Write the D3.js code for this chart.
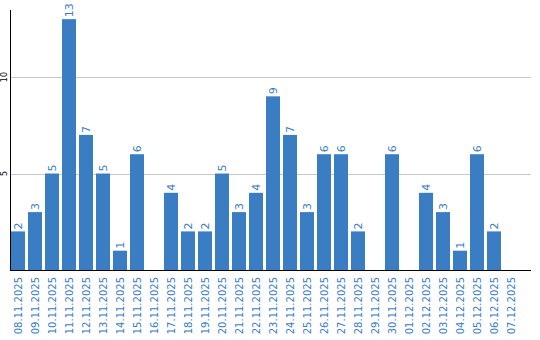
<!DOCTYPE html>
<html>
<head>
<meta charset="utf-8">
<script src="https://cdn.jsdelivr.net/npm/d3@7"></script>
<style>
  body { margin: 0; background: #fff; }
  text { font-family: "DejaVu Sans", Verdana, sans-serif; }
</style>
</head>
<body>
<div id="chart"></div>
<script>
"use strict";

var dates = ["08.11.2025","09.11.2025","10.11.2025","11.11.2025","12.11.2025","13.11.2025",
  "14.11.2025","15.11.2025","16.11.2025","17.11.2025","18.11.2025","19.11.2025","20.11.2025",
  "21.11.2025","22.11.2025","23.11.2025","24.11.2025","25.11.2025","26.11.2025","27.11.2025",
  "28.11.2025","29.11.2025","30.11.2025","01.12.2025","02.12.2025","03.12.2025","04.12.2025",
  "05.12.2025","06.12.2025","07.12.2025"];
var counts = [2,3,5,13,7,5,1,6,0,4,2,2,5,3,4,9,7,3,6,6,2,0,6,0,4,3,1,6,2,0];
var yTicks = [5, 10];

var width = 540, height = 340;
var blue = "#3a7dc2";

var svg = d3.select("#chart").append("svg")
  .attr("width", width)
  .attr("height", height);

var x = d3.scaleBand()
  .domain(dates)
  .range([9.5, 519.5])
  .paddingInner(3 / 17)
  .paddingOuter(1.5 / 17);

var y = d3.scaleLinear()
  .domain([0, 13.5])
  .range([270, 9.5]);

// grid lines
svg.append("g")
  .selectAll("line")
  .data(yTicks)
  .enter().append("line")
  .attr("x1", 10).attr("x2", 531)
  .attr("y1", d => Math.round(y(d)) + 0.5)
  .attr("y2", d => Math.round(y(d)) + 0.5)
  .attr("stroke", "#c8c8c8");

// bars
svg.append("g")
  .selectAll("rect")
  .data(counts)
  .enter().append("rect")
  .attr("x", (d, i) => x(dates[i]))
  .attr("width", x.bandwidth())
  .attr("y", d => y(d))
  .attr("height", d => y(0) - y(d))
  .attr("fill", blue);

// value labels
svg.append("g")
  .selectAll("text")
  .data(counts.map((d, i) => ({v: d, k: dates[i]})).filter(d => d.v > 0))
  .enter().append("text")
  .attr("transform", d => "translate(" + (x(d.k) + x.bandwidth() / 2 + 4) + "," + (y(d.v) - 2) + ") rotate(-90)")
  .attr("fill", blue)
  .attr("font-size", 11)
  .text(d => d.v);

// axes lines
svg.append("line")
  .attr("x1", 10.5).attr("x2", 10.5)
  .attr("y1", 10).attr("y2", 270)
  .attr("stroke", "#000");
svg.append("line")
  .attr("x1", 10).attr("x2", 531)
  .attr("y1", 270.5).attr("y2", 270.5)
  .attr("stroke", "#000");

// y tick labels
svg.append("g")
  .selectAll("text")
  .data(yTicks)
  .enter().append("text")
  .attr("transform", d => "translate(7," + y(d) + ") rotate(-90)")
  .attr("text-anchor", "middle")
  .attr("font-size", 8)
  .attr("fill", "#000")
  .text(d => d);

// date labels
svg.append("g")
  .selectAll("text")
  .data(dates)
  .enter().append("text")
  .attr("transform", d => "translate(" + (x(d) + x.bandwidth() / 2 + 4) + ",277) rotate(-90)")
  .attr("text-anchor", "end")
  .attr("font-size", 10)
  .attr("fill", blue)
  .text(d => d);
</script>
</body>
</html>
